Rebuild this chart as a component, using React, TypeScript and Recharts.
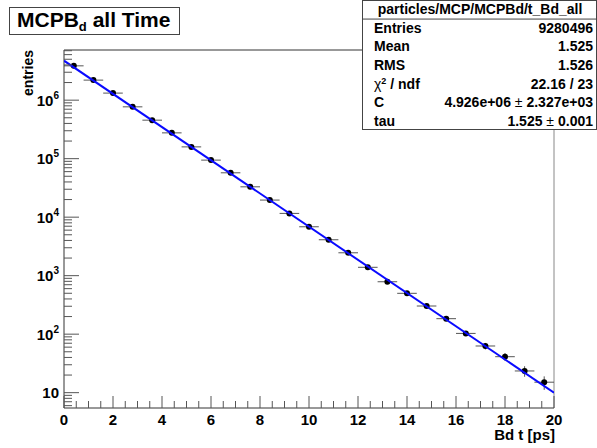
import { ScatterChart, Scatter, XAxis, YAxis, ErrorBar, ReferenceLine } from "recharts";

const FONT = "'Liberation Sans', Arial, Helvetica, sans-serif";
const AXIS = "#333333";
const TICK = "#555555";
const FIT_BLUE = "#0a0aff";

// bin centres [ps] and bin contents
const times = [0.4, 1.2, 2.0, 2.8, 3.6, 4.4, 5.2, 6.0, 6.8, 7.6, 8.4, 9.2, 10.0, 10.8, 11.6, 12.4, 13.2, 14.0, 14.8, 15.6, 16.4, 17.2, 18.0, 18.8, 19.6];
const entries = [3.86e6, 2.2e6, 1.32e6, 7.69e5, 4.55e5, 2.76e5, 1.59e5, 9.44e4, 5.73e4, 3.3e4, 1.96e4, 1.16e4, 6850, 4110, 2460, 1390, 787, 499, 303, 184, 103, 62.8, 41.2, 23.5, 15.1];
const entryErrors = [1965, 1483, 1149, 877, 675, 525, 399, 307, 239, 182, 140, 108, 83, 64, 50, 37, 28, 22, 17, 14, 10, 8, 6.4, 4.8, 3.9];
const BIN_HALF = 0.4;

// fit line end points
const fitT = [0, 20];
const fitY = [4.73e6, 10];

const xMajorTicks = [0, 2, 4, 6, 8, 10, 12, 14, 16, 18, 20];
const xMinorTicks = [0.5, 1, 1.5, 2.5, 3, 3.5, 4.5, 5, 5.5, 6.5, 7, 7.5, 8.5, 9, 9.5, 10.5, 11, 11.5, 12.5, 13, 13.5, 14.5, 15, 15.5, 16.5, 17, 17.5, 18.5, 19, 19.5];
const yDecades = [10, 100, 1e3, 1e4, 1e5, 1e6];
const yMantissas = [2, 3, 4, 5, 6, 7, 8, 9];
const yBelowFirst = [6, 7, 8, 9];
const Y_MIN = 5.47;
const Y_MAX = 7.2e6;

const statsRows: [string, string][] = [
  ["Entries", "9280496"],
  ["Mean", "1.525"],
  ["RMS", "1.526"],
  ["chi", "22.16 / 23"],
  ["C", "4.926e+06 ± 2.327e+03"],
  ["tau", "1.525 ± 0.001"],
];

const points = times.map((t, i) => ({ x: t, y: entries[i], xErr: BIN_HALF, yErr: entryErrors[i] }));
const fit = fitT.map((t, i) => ({ x: t, y: fitY[i] }));

const xTicks = [...xMajorTicks, ...xMinorTicks].sort((a, b) => a - b);
const yTicks = [
  ...yBelowFirst,
  ...yDecades.flatMap((d) => [d, ...yMantissas.map((m) => m * d)]),
].filter((v) => v >= Y_MIN && v <= Y_MAX);

/* eslint-disable @typescript-eslint/no-explicit-any */
function XTick(props: any) {
  const { x, y, payload } = props;
  const major = xMajorTicks.includes(payload.value);
  return (
    <g>
      <line x1={x} x2={x} y1={y} y2={y - (major ? 12 : 7)} stroke={TICK} />
      {major && (
        <text x={x} y={y + 16.5} textAnchor="middle" fontFamily={FONT} fontWeight="bold" fontSize={15} fill="#000">
          {payload.value}
        </text>
      )}
    </g>
  );
}

function YTick(props: any) {
  const { x, y, payload } = props;
  const exp = Math.round(Math.log10(payload.value));
  const major = yDecades.includes(payload.value);
  return (
    <g>
      <line x1={x} x2={x + (major ? 15 : 8)} y1={y} y2={y} stroke={TICK} />
      {major && (
        <text x={x - 5} y={y + 5.5} textAnchor="end" fontFamily={FONT} fontWeight="bold" fontSize={15} fill="#000">
          10
          {exp > 1 && (
            <tspan dy={-7} fontSize={10}>
              {exp}
            </tspan>
          )}
        </text>
      )}
    </g>
  );
}

function Dot(props: any) {
  const { cx, cy } = props;
  return <circle cx={cx} cy={cy} r={3} fill="#000" />;
}

function Overlay() {
  const rowH = 130 / 7;
  return (
    <svg width={597} height={448} style={{ position: "absolute", left: 0, top: 0, pointerEvents: "none" }}>
      {/* title box */}
      <rect x={9.5} y={7.5} width={170} height={27} fill="#fff" stroke="#444" />
      <text x={17} y={27} fontFamily={FONT} fontWeight="bold" fontSize={21} fill="#000">
        MCPB
        <tspan dy={4} fontSize={13}>d</tspan>
        <tspan dy={-4}> all Time</tspan>
      </text>

      {/* stats box */}
      <rect x={362.5} y={0.5} width={234} height={129} fill="#fff" stroke="#444" />
      <line x1={362.5} x2={596.5} y1={rowH + 0.5} y2={rowH + 0.5} stroke="#444" />
      <text x={480} y={rowH / 2 + 5} textAnchor="middle" fontFamily={FONT} fontWeight="bold" fontSize={14} fill="#000">
        particles/MCP/MCPBd/t_Bd_all
      </text>
      {statsRows.map(([k, v], i) => {
        const yb = rowH * (i + 1.5) + 5;
        const parts = v.split(" ± ");
        return (
          <g key={k} fontFamily={FONT} fontSize={14} fill="#000">
            <text x={374} y={yb} fontWeight="bold">
              {k === "chi" ? (
                <>
                  <tspan fontWeight="normal">χ</tspan>
                  <tspan dy={-5} fontSize={9}>2</tspan>
                  <tspan dy={5}> / ndf</tspan>
                </>
              ) : (
                k
              )}
            </text>
            <text x={593} y={yb} textAnchor="end" fontWeight="bold">
              {parts.length === 2 ? (
                <>
                  {parts[0]}
                  <tspan fontWeight="normal"> ± </tspan>
                  {parts[1]}
                </>
              ) : (
                v
              )}
            </text>
          </g>
        );
      })}

      {/* axis titles */}
      <text x={555} y={440} textAnchor="end" fontFamily={FONT} fontWeight="bold" fontSize={15} fill="#000">
        Bd t [ps]
      </text>
      <text
        transform="translate(33,50) rotate(-90)"
        textAnchor="end"
        fontFamily={FONT}
        fontWeight="bold"
        fontSize={14}
        fill="#000"
      >
        entries
      </text>
    </svg>
  );
}

export default function App() {
  return (
    <div style={{ position: "absolute", left: 0, top: 0, width: 597, height: 448, background: "#fff" }}>
      <ScatterChart width={597} height={448} margin={{ top: 50, right: 43, bottom: 0, left: 0 }}>
        <XAxis
          type="number"
          dataKey="x"
          domain={[0, 20]}
          ticks={xTicks}
          interval={0}
          height={40}
          tickSize={0}
          tickMargin={0}
          tickLine={false}
          tick={(p: any) => <XTick {...p} />}
          axisLine={{ stroke: AXIS }}
          allowDataOverflow
        />
        <YAxis
          type="number"
          dataKey="y"
          scale="log"
          domain={[Y_MIN, Y_MAX]}
          ticks={yTicks}
          interval={0}
          width={64}
          tickSize={0}
          tickMargin={0}
          tickLine={false}
          tick={(p: any) => <YTick {...p} />}
          axisLine={{ stroke: AXIS }}
          allowDataOverflow
        />
        <ReferenceLine y={Y_MAX} stroke={AXIS} ifOverflow="visible" />
        <ReferenceLine x={20} stroke="#888" ifOverflow="visible" />
        <Scatter data={points} shape={(p: any) => <Dot {...p} />} isAnimationActive={false}>
          <ErrorBar dataKey="xErr" direction="x" width={0} stroke="#555" strokeWidth={1} isAnimationActive={false} />
          <ErrorBar dataKey="yErr" direction="y" width={0} stroke="#555" strokeWidth={1} isAnimationActive={false} />
        </Scatter>
        <Scatter
          data={fit}
          line={{ stroke: FIT_BLUE, strokeWidth: 2 }}
          shape={() => <g />}
          isAnimationActive={false}
        />
      </ScatterChart>
      <Overlay />
    </div>
  );
}
